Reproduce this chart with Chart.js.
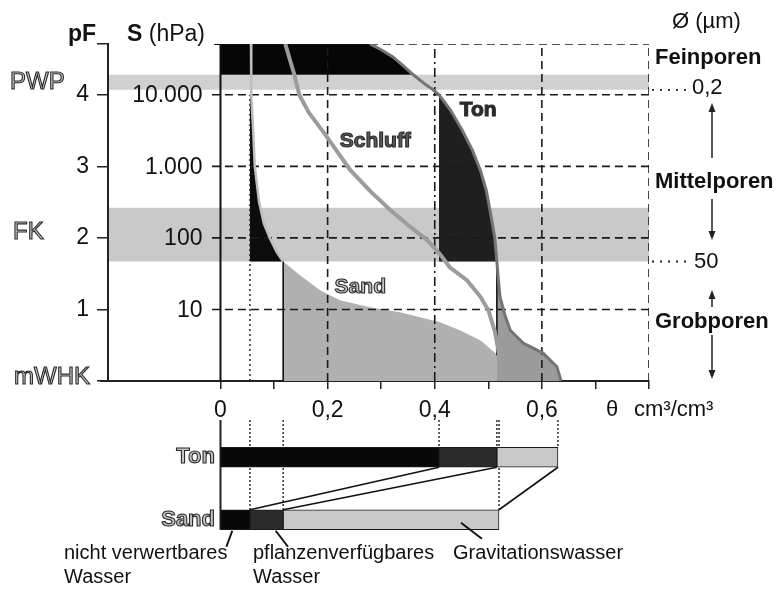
<!DOCTYPE html>
<html>
<head>
<meta charset="utf-8">
<script src="https://cdn.jsdelivr.net/npm/chart.js@4.4.1/dist/chart.umd.min.js"></script>
<style>
html, body { margin: 0; padding: 0; background: #fff; }
#wrap { position: relative; width: 780px; height: 589px; }
#wrap canvas { position: absolute; left: 0; top: 0; }
</style>
</head>
<body>
<div id="wrap">
  <canvas id="main" width="780" height="589"></canvas>
  <canvas id="bars" width="780" height="589"></canvas>
</div>
<script>
const FONT = '"Liberation Sans", Arial, sans-serif';

// Retention curves: water content theta (cm3/cm3) vs pF
const sandTheta = [0.057, 0.057, 0.058, 0.061, 0.064, 0.072, 0.081, 0.092, 0.105, 0.117, 0.148, 0.186, 0.223, 0.279, 0.335, 0.410, 0.447, 0.485, 0.513, 0.531, 0.540];
const sandPF    = [4.71,  4.28,  4.00,  3.50,  3.00,  2.50,  2.20,  2.00,  1.80,  1.67,  1.48,  1.27,  1.13,  1.03,  0.96,  0.82,  0.71,  0.57,  0.39,  0.15,  0.00];
const schluffTheta = [0.121, 0.130, 0.138, 0.147, 0.165, 0.195, 0.242, 0.280, 0.317, 0.355, 0.386, 0.410, 0.428, 0.460, 0.485, 0.500, 0.512, 0.522];
const schluffPF    = [4.71,  4.48,  4.28,  4.00,  3.75,  3.45,  2.95,  2.65,  2.39,  2.15,  1.97,  1.77,  1.59,  1.41,  1.18,  0.99,  0.70,  0.29];
const tonTheta = [0.279, 0.300, 0.322, 0.342, 0.360, 0.380, 0.397, 0.408, 0.429, 0.451, 0.470, 0.485, 0.496, 0.503, 0.512, 0.516, 0.519, 0.522, 0.531, 0.541, 0.565, 0.602, 0.628, 0.636];
const tonPF    = [4.71,  4.63,  4.53,  4.40,  4.28,  4.16,  4.07,  4.00,  3.79,  3.51,  3.23,  2.95,  2.67,  2.39,  2.01,  1.67,  1.40,  1.17,  0.92,  0.71,  0.53,  0.39,  0.20,  0.00];

// Bands and axes
const pwpBand = [4.07, 4.28];
const fkBand = [1.67, 2.42];
const pfMax = 4.71;
const pfTicks = [1, 2, 3, 4];
const hpaLabels = ['10', '100', '1.000', '10.000'];
const thetaTicks = [0, 0.1, 0.2, 0.3, 0.4, 0.5, 0.6, 0.7, 0.8];
const thetaTickLabels = ['0', '', '0,2', '', '0,4', '', '0,6', '', ''];
const thetaGrid = [0.2, 0.4, 0.6, 0.8];

// Water fractions (theta limits) for the bars below
const soils = ['Ton', 'Sand'];
const tonLimits = [0, 0.408, 0.516, 0.63];
const sandLimits = [0, 0.055, 0.117, 0.52];
const waterClasses = ['nicht verwertbares Wasser', 'pflanzenverfügbares Wasser', 'Gravitationswasser'];
const waterColors = ['#080808', '#2b2b2b', '#c9c9c9'];

const X_MIN = -0.21, X_MAX = 0.8;

function pts(th, pf) {
    return th.map((t, i) => ({ x: t, y: pf[i] }));
}
function between(th, pf, lo, hi) {
    return pts(th, pf).filter(p => p.y >= lo && p.y <= hi);
}
function hLine(y, x0, x1) { return [{ x: x0, y: y }, { x: x1, y: y }]; }
function vLine(x, y0, y1) { return [{ x: x, y: y0 }, { x: x, y: y1 }]; }
function band(b) {
    return [{ x: X_MIN, y: b[0] }, { x: X_MAX, y: b[0] }, { x: X_MAX, y: b[1] }, { x: X_MIN, y: b[1] }];
}

function area(data, color, order) {
    return { data: data, fill: 'shape', backgroundColor: color, borderWidth: 0, pointRadius: 0, order: order };
}
function stroke(data, color, width, dash, order) {
    return { data: data, fill: false, borderColor: color, borderWidth: width, borderDash: dash || [], pointRadius: 0, order: order };
}

// Areas
const topBlock = [{ x: 0, y: pfMax }, ...between(tonTheta, tonPF, pwpBand[1], pfMax), { x: 0, y: pwpBand[1] }];
const sandSliver = [{ x: sandLimits[1], y: 4.0 }, ...between(sandTheta, sandPF, fkBand[0], 4.0), { x: sandLimits[1], y: fkBand[0] }];
const tonDark = [...between(tonTheta, tonPF, fkBand[0], 4.0), { x: tonLimits[1], y: fkBand[0] }];
const tonGrey = [...between(tonTheta, tonPF, 0, fkBand[0]), { x: tonLimits[2], y: 0 }];
const sandGrey = [...between(sandTheta, sandPF, 0, fkBand[0]), { x: sandLimits[2], y: 0 }];

const datasets = [
    area(band(pwpBand), '#d0d0d0', 20),
    area(band(fkBand), '#c9c9c9', 20),
    area(topBlock, '#060606', 15),
    area(sandSliver, '#0c0c0c', 15),
    area(tonDark, '#1f1f1f', 15),
    area(sandGrey, '#b0b0b0', 14),
    area(tonGrey, '#9b9b9b', 13),
];
pfTicks.forEach(p => datasets.push(stroke(hLine(p, -0.016, X_MAX), '#1a1a1a', 1.6, [8, 5], 10)));
datasets.push(stroke(hLine(pfMax, tonTheta[0], X_MAX), '#1a1a1a', 1.6, [8, 5], 10));
datasets.push(stroke(hLine(pfMax, -0.012, tonTheta[0]), '#111', 2, [], 10));
thetaGrid.forEach(t => datasets.push(stroke(vLine(t, 0, pfMax), '#1a1a1a', 1.6, t === 0.4 ? [9, 4, 2, 4] : [8, 5], 10)));
datasets.push(stroke(vLine(sandLimits[1], 0, 4.0), '#1a1a1a', 1.4, [2, 3], 10));
datasets.push(stroke(vLine(0, 0, pfMax), '#111', 2, [], 9));
datasets.push(stroke(vLine(sandLimits[2], 0, fkBand[0]), '#111', 1.6, [], 9));
datasets.push(stroke(vLine(tonLimits[2], 0.36, fkBand[0]), '#111', 1.6, [], 9));
datasets.push(stroke(pts(schluffTheta, schluffPF), '#9c9c9c', 4, [], 3));
datasets.push(stroke(pts(sandTheta, sandPF).filter(p => p.y >= fkBand[0]), '#bdbdbd', 2.5, [], 2));
datasets.push(stroke(pts(tonTheta, tonPF), '#747474', 3, [], 1));

function outlined(ctx, text, x, y, size, fill, weight) {
    ctx.font = `${weight || 'normal'} ${size}px ${FONT}`;
    ctx.fillStyle = fill;
    ctx.fillText(text, x, y);
    ctx.lineWidth = 1.1;
    ctx.strokeStyle = '#2a2a2a';
    ctx.strokeText(text, x, y);
}
function arrow(ctx, x, y1, y2) {
    const dir = y2 > y1 ? 1 : -1;
    ctx.beginPath();
    ctx.moveTo(x, y1);
    ctx.lineTo(x, y2 - dir * 6);
    ctx.stroke();
    ctx.beginPath();
    ctx.moveTo(x, y2);
    ctx.lineTo(x - 3.5, y2 - dir * 9);
    ctx.lineTo(x + 3.5, y2 - dir * 9);
    ctx.closePath();
    ctx.fill();
}

const figureText = {
    id: 'figureText',
    afterDraw(chart) {
        const { ctx, chartArea } = chart;
        const x = chart.scales.x, y = chart.scales.y;
        ctx.save();

        // pF axis line and the short run of the theta axis left of it
        ctx.strokeStyle = '#222';
        ctx.lineWidth = 2;
        ctx.beginPath();
        ctx.moveTo(chartArea.left, chartArea.top);
        ctx.lineTo(chartArea.left, chartArea.bottom);
        ctx.moveTo(chartArea.left - 8, chartArea.bottom);
        ctx.lineTo(chartArea.left, chartArea.bottom);
        ctx.stroke();

        ctx.textBaseline = 'middle';

        // axis titles
        ctx.fillStyle = '#111';
        ctx.textAlign = 'left';
        ctx.font = `bold 23px ${FONT}`;
        ctx.fillText('pF', 68, 35);
        ctx.fillText('S', 127, 35);
        const sw = ctx.measureText('S ').width;
        ctx.font = `23px ${FONT}`;
        ctx.fillText('(hPa)', 127 + sw, 35);

        // hPa labels beside the pF ticks
        ctx.textAlign = 'right';
        pfTicks.forEach((p, i) => ctx.fillText(hpaLabels[i], x.getPixelForValue(0) - 18, y.getPixelForValue(p) + 1));

        // PWP / FK / mWHK
        ctx.textAlign = 'left';
        outlined(ctx, 'PWP', 10, y.getPixelForValue((pwpBand[0] + pwpBand[1]) / 2), 24, '#cfcfcf');
        outlined(ctx, 'FK', 13, 232, 24, '#cfcfcf');
        outlined(ctx, 'mWHK', 14, 377, 24, '#cfcfcf');

        // curve labels
        ctx.textAlign = 'center';
        outlined(ctx, 'Ton', x.getPixelForValue(0.481), y.getPixelForValue(3.79), 21, '#2b2b2b', 'bold');
        outlined(ctx, 'Schluff', x.getPixelForValue(0.289), y.getPixelForValue(3.35), 21, '#5a5a5a', 'bold');
        outlined(ctx, 'Sand', x.getPixelForValue(0.261), y.getPixelForValue(1.31), 21, '#c4c4c4', 'bold');

        // theta axis title
        ctx.textAlign = 'left';
        ctx.fillStyle = '#111';
        ctx.font = `22px ${FONT}`;
        ctx.fillText('θ', 606, 410);
        ctx.fillText('cm³/cm³', 634, 410);

        // pore sizes on the right
        const rx = 655, ax = 712;
        ctx.fillText('Ø (µm)', 672, 22);
        ctx.font = `bold 22px ${FONT}`;
        ctx.fillText('Feinporen', rx, 58);
        ctx.fillText('Mittelporen', rx, 182);
        ctx.fillText('Grobporen', rx, 322);
        const y02 = y.getPixelForValue(pwpBand[0]);
        const y50 = y.getPixelForValue(fkBand[0]);
        ctx.font = `22px ${FONT}`;
        ctx.fillText('0,2', 692, y02 - 2);
        ctx.fillText('50', 694, y50);
        ctx.strokeStyle = '#222';
        ctx.lineWidth = 1.8;
        ctx.setLineDash([2, 6]);
        [y02, y50].forEach(v => {
            ctx.beginPath();
            ctx.moveTo(652, v);
            ctx.lineTo(690, v);
            ctx.stroke();
        });
        ctx.setLineDash([]);
        ctx.fillStyle = '#222';
        ctx.lineWidth = 1.5;
        arrow(ctx, ax, 158, 103);
        arrow(ctx, ax, 199, 240);
        arrow(ctx, ax, 307, 290);
        arrow(ctx, ax, 335, 379);
        ctx.restore();
    }
};

new Chart(document.getElementById('main'), {
    type: 'line',
    data: { datasets: datasets },
    options: {
        responsive: false,
        animation: false,
        devicePixelRatio: 1,
        layout: { padding: { left: 0, right: 131, top: 44, bottom: 168 } },
        elements: { line: { tension: 0 }, point: { radius: 0 } },
        plugins: { legend: { display: false }, tooltip: { enabled: false } },
        scales: {
            x: {
                type: 'linear',
                min: X_MIN,
                max: X_MAX,
                afterBuildTicks: s => { s.ticks = thetaTicks.map(v => ({ value: v })); },
                afterFit: s => { s.height = 40; },
                ticks: {
                    autoSkip: false,
                    maxRotation: 0,
                    padding: 8,
                    color: '#111',
                    font: { family: FONT, size: 23 },
                    callback: (v, i) => thetaTickLabels[i]
                },
                grid: { drawOnChartArea: false, tickLength: 8, color: '#222', lineWidth: 1.5 },
                border: { color: '#222', width: 2 }
            },
            y: {
                min: 0,
                max: pfMax,
                afterBuildTicks: s => { s.ticks = [0, ...pfTicks, pfMax].map(v => ({ value: v })); },
                afterFit: s => { s.width = 108; },
                ticks: {
                    padding: 8,
                    color: '#111',
                    font: { family: FONT, size: 23 },
                    callback: v => (pfTicks.includes(v) ? String(v) : '')
                },
                grid: { drawOnChartArea: false, tickLength: 11, color: '#222', lineWidth: 1.5 },
                border: { color: '#222', width: 2 }
            }
        }
    },
    plugins: [figureText]
});

// ---- bars below: water fractions of Ton and Sand ----
const barLinks = {
    id: 'barLinks',
    beforeDatasetsDraw(chart) {
        const { ctx } = chart;
        const x = chart.scales.x;
        const ton = chart.getDatasetMeta(0).data[0], sand = chart.getDatasetMeta(0).data[1];
        const tonTop = ton.y - ton.height / 2, sandTop = sand.y - sand.height / 2, sandBot = sand.y + sand.height / 2;
        ctx.save();
        ctx.strokeStyle = '#222';
        ctx.lineWidth = 2;
        ctx.beginPath();
        ctx.moveTo(x.getPixelForValue(0), 420);
        ctx.lineTo(x.getPixelForValue(0), sandBot);
        ctx.stroke();
        ctx.lineWidth = 1.4;
        ctx.setLineDash([2, 2]);
        sandLimits.slice(1).forEach(v => {
            ctx.beginPath();
            ctx.moveTo(x.getPixelForValue(v), 420);
            ctx.lineTo(x.getPixelForValue(v), sandTop);
            ctx.stroke();
        });
        tonLimits.slice(1).forEach(v => {
            ctx.beginPath();
            ctx.moveTo(x.getPixelForValue(v), 420);
            ctx.lineTo(x.getPixelForValue(v), tonTop);
            ctx.stroke();
        });
        ctx.restore();
    },
    afterDatasetsDraw(chart) {
        const { ctx } = chart;
        const x = chart.scales.x;
        const ton = chart.getDatasetMeta(0).data[0], sand = chart.getDatasetMeta(0).data[1];
        const tonBot = ton.y + ton.height / 2, sandTop = sand.y - sand.height / 2, sandBot = sand.y + sand.height / 2;
        ctx.save();
        ctx.strokeStyle = '#111';
        ctx.lineWidth = 1.6;
        for (let i = 1; i < tonLimits.length; i++) {
            ctx.beginPath();
            ctx.moveTo(x.getPixelForValue(tonLimits[i]), tonBot);
            ctx.lineTo(x.getPixelForValue(sandLimits[i]), sandTop);
            ctx.stroke();
        }
        // soil labels
        ctx.textBaseline = 'middle';
        ctx.textAlign = 'right';
        outlined(ctx, 'Ton', 215, ton.y, 22, '#c4c4c4', 'bold');
        outlined(ctx, 'Sand', 215, sand.y, 22, '#c4c4c4', 'bold');
        // leaders and class labels
        ctx.strokeStyle = '#111';
        ctx.lineWidth = 2;
        const leaders = [[0.022, sandBot + 1, 0.011, sandBot + 17], [0.103, sandBot + 1, 0.126, sandBot + 17], [0.449, sandBot - 7, 0.488, sandBot + 9]];
        leaders.forEach(l => {
            ctx.beginPath();
            ctx.moveTo(x.getPixelForValue(l[0]), l[1]);
            ctx.lineTo(x.getPixelForValue(l[2]), l[3]);
            ctx.stroke();
        });
        ctx.fillStyle = '#111';
        ctx.textAlign = 'left';
        ctx.font = `20px ${FONT}`;
        const parts = waterClasses.map(c => c.split(' '));
        ctx.fillText(parts[0][0] + ' ' + parts[0][1], 64, 553);
        ctx.fillText(parts[0][2], 64, 577);
        ctx.fillText(parts[1][0], 253, 553);
        ctx.fillText(parts[1][1], 253, 577);
        ctx.fillText(parts[2][0], 453, 553);
        ctx.restore();
    }
};

new Chart(document.getElementById('bars'), {
    type: 'bar',
    data: {
        labels: soils,
        datasets: waterClasses.map((c, i) => ({
            label: c,
            data: [[tonLimits[i], tonLimits[i + 1]], [sandLimits[i], sandLimits[i + 1]]],
            backgroundColor: waterColors[i],
            borderColor: '#1a1a1a',
            borderWidth: 1,
            borderSkipped: false,
            grouped: false,
            barThickness: 20
        }))
    },
    options: {
        indexAxis: 'y',
        responsive: false,
        animation: false,
        devicePixelRatio: 1,
        layout: { padding: { left: 108, right: 131, top: 426, bottom: 38 } },
        plugins: { legend: { display: false }, tooltip: { enabled: false } },
        scales: {
            x: { type: 'linear', min: X_MIN, max: X_MAX, display: false },
            y: { display: false }
        }
    },
    plugins: [barLinks]
});
</script>
</body>
</html>
